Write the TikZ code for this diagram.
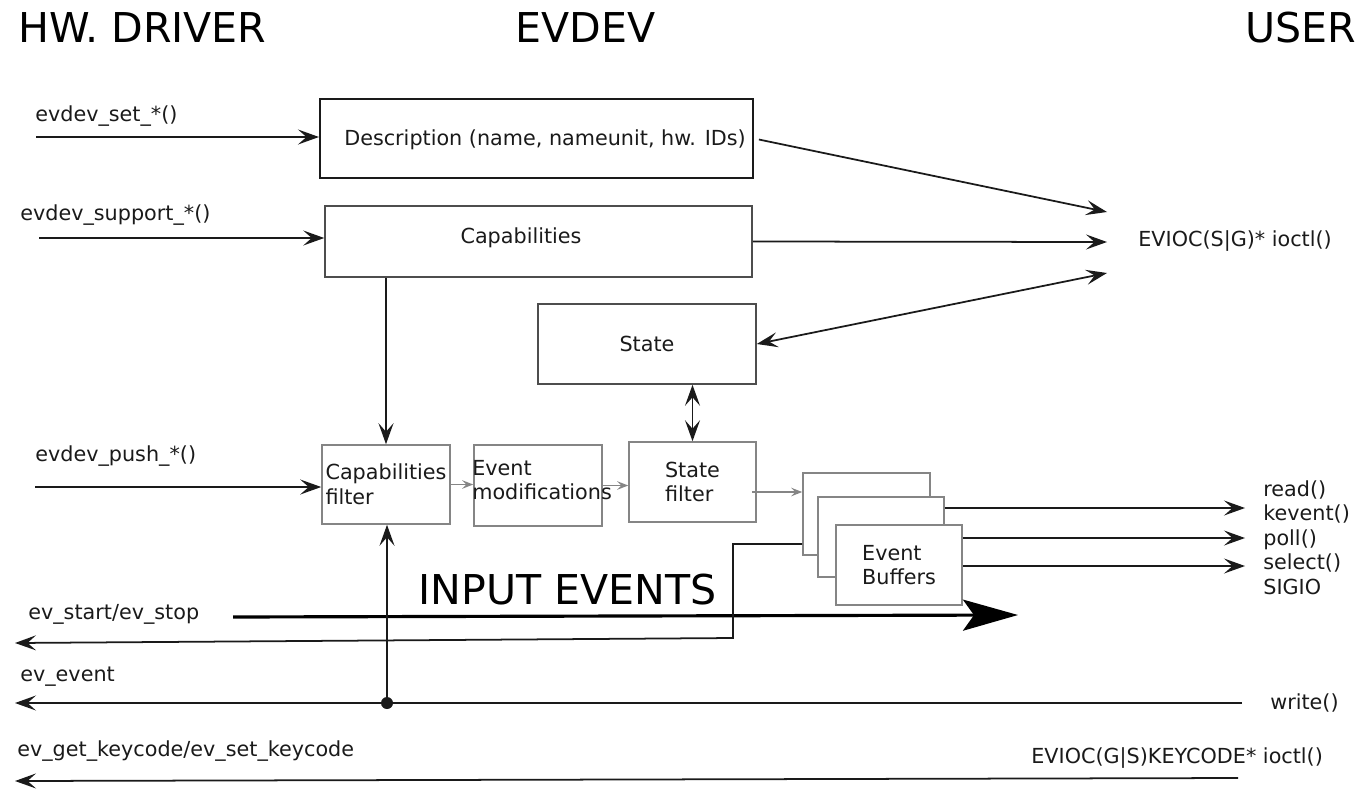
\documentclass[tikz,border=0pt]{standalone}
\usepackage{fontspec}
\setmainfont{DejaVu Sans}
\usetikzlibrary{arrows.meta}
\usetikzlibrary{calc}
\definecolor{inkcol}{HTML}{1A1A1A}
\definecolor{edgecol}{HTML}{858585}
\definecolor{darkedge}{HTML}{4D4D4D}
\tikzstyle{SmallText}=[font=\fontsize{11.8}{14}\selectfont, text=inkcol, inner sep=0pt]
\tikzstyle{BigText}=[font=\fontsize{23.4}{27}\selectfont, inner sep=0pt]
\tikzstyle{BlockNode}=[rectangle, draw=darkedge, line width=0.9pt, inner sep=0pt, font=\fontsize{11.8}{14}\selectfont, text=inkcol]
\tikzstyle{FilterNode}=[BlockNode, draw=edgecol, fill=white, align=left]
\tikzstyle{CallEdge}=[->, >={Stealth[length=0.42cm, width=0.3cm, inset=0.17cm]}, draw=inkcol, line width=1pt]
\tikzstyle{BothEdge}=[CallEdge, <->]
\tikzstyle{PipeEdge}=[->, >={Stealth[length=0.22cm, width=0.17cm, inset=0.08cm]}, draw=edgecol, line width=0.8pt]
\tikzstyle{FlowEdge}=[->, >={Stealth[length=1.1cm, width=0.62cm, inset=0.22cm]}, line width=1.8pt]

\begin{document}
\begin{tikzpicture}[x=0.02cm, y=-0.02cm]
\useasboundingbox (0,0) rectangle (1368,788);

% column titles
\node[BigText, anchor=base west](HwTitle) at (18,42) {HW. DRIVER};
\node[BigText, anchor=base west](EvdevTitle) at (515,42) {EVDEV};
\node[BigText, anchor=base west](UserTitle) at (1245,42) {USER};

% evdev blocks
\node[BlockNode, draw=inkcol, line width=1.2pt, minimum width=8.66cm, minimum height=1.58cm](Desc) at (536.5,138.5) {};
\node[SmallText](DescText) at (545,140) {Description (name, nameunit, hw. IDs)};
\node[BlockNode, minimum width=8.54cm, minimum height=1.42cm](Caps) at (538.5,241.5) {};
\node[SmallText](CapsText) at (521,238) {Capabilities};
\node[BlockNode, minimum width=4.36cm, minimum height=1.6cm](State) at (647,344) {State};

\node[FilterNode, minimum width=2.56cm, minimum height=1.58cm](CapFilter) at (386,484.5) {Capabilities\\filter};
\node[FilterNode, minimum width=2.56cm, minimum height=1.62cm](EvMod) at (538,485.5) {};
\node[SmallText, anchor=west, align=left](EvModText) at (472,480) {Event\\modifications};
\node[FilterNode, minimum width=2.54cm, minimum height=1.6cm](StateFilter) at (692.5,482) {State\\filter};

\node[FilterNode, minimum width=2.54cm, minimum height=1.64cm](BufA) at (866.5,514) {};
\node[FilterNode, minimum width=2.52cm, minimum height=1.6cm](BufB) at (881,537) {};
\node[FilterNode, minimum width=2.52cm, minimum height=1.6cm](BufC) at (899,565) {Event\\Buffers};

% driver side labels
\node[SmallText, anchor=base west](SetLabel) at (35,121) {evdev\_set\_*()};
\node[SmallText, anchor=base west](SupportLabel) at (20,220) {evdev\_support\_*()};
\node[SmallText, anchor=base west](PushLabel) at (35,461) {evdev\_push\_*()};
\node[SmallText, anchor=west](StartLabel) at (28,614) {ev\_start/ev\_stop};
\node[SmallText, anchor=west](EventLabel) at (20,677) {ev\_event};
\node[SmallText, anchor=west](KeyLabel) at (17,751) {ev\_get\_keycode/ev\_set\_keycode};
\node[BigText, anchor=base west](FlowLabel) at (418,604) {INPUT EVENTS};

% user side labels
\node[SmallText, anchor=west](Ioctl) at (1138,241) {EVIOC(S|G)* ioctl()};
\node[SmallText, anchor=west, align=left](ReadCalls) at (1263,537.5) {read()\\kevent()\\poll()\\select()\\SIGIO};
\node[SmallText, anchor=west](WriteCall) at (1270,703) {write()};
\node[SmallText, anchor=west](KeyIoctl) at (1031,758) {EVIOC(G|S)KEYCODE* ioctl()};

% free ends
\coordinate (SetIn) at (36,137);
\coordinate (SupportIn) at (39,238);
\coordinate (PushIn) at (35,487);
\coordinate (IoA) at (1107,212);
\coordinate (IoB) at (1107,242);
\coordinate (IoC) at (1107,273);
\coordinate (BufFeed) at (752,492);
\coordinate (ReadOut) at (1245,508);
\coordinate (PollOut) at (1245,538);
\coordinate (SelectOut) at (1245,566);
\coordinate (FlowStart) at (233,617);
\coordinate (FlowEnd) at (1018,615);
\coordinate (StartBend) at (733,544);
\coordinate (StartDrop) at (733,638);
\coordinate (StartOut) at (15,643);
\coordinate (WriteIn) at (1242,703);
\coordinate (EventOut) at (15,703);
\coordinate (Tap) at (387,703);
\coordinate (KeyIn) at (1238,778);
\coordinate (KeyOut) at (15,781);

% driver calls
\draw[CallEdge](SetIn) -- (SetIn -| Desc.west);
\draw[CallEdge](SupportIn) -- (SupportIn -| Caps.west);
\draw[CallEdge](PushIn) -- (PushIn -| CapFilter.west);

% ioctl access
\draw[CallEdge, shorten <=0.1cm](Desc.east) -- (IoA);
\draw[CallEdge](Caps.east) -- (IoB);
\draw[BothEdge](State.east) -- (IoC);
\draw[CallEdge](Caps.south -| CapFilter.north) -- (CapFilter.north);
\draw[BothEdge](StateFilter.north) -- (StateFilter.north |- State.south);

% event pipeline
\draw[PipeEdge](CapFilter.east) -- (CapFilter.east -| EvMod.west);
\draw[PipeEdge](EvMod.east) -- (EvMod.east -| StateFilter.west);
\draw[PipeEdge](BufFeed) -- (BufFeed -| BufA.west);
\draw[CallEdge](ReadOut -| BufB.east) -- (ReadOut);
\draw[CallEdge](PollOut -| BufC.east) -- (PollOut);
\draw[CallEdge](SelectOut -| BufC.east) -- (SelectOut);
\draw[FlowEdge](FlowStart) -- (FlowEnd);

% back to the driver
\draw[CallEdge](BufA.west |- StartBend) -- (StartBend) -- (StartDrop) -- (StartOut);
\draw[CallEdge](WriteIn) -- (EventOut);
\draw[CallEdge](Tap) -- (Tap |- CapFilter.south);
\fill[inkcol](Tap) circle (0.12cm);
\draw[CallEdge](KeyIn) -- (KeyOut);

\end{tikzpicture}
\end{document}
